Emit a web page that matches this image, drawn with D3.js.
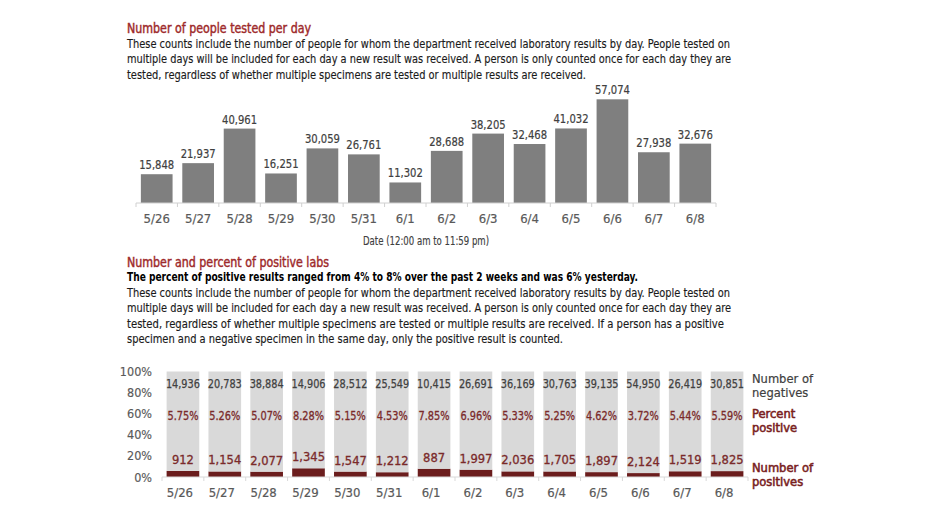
<!DOCTYPE html>
<html>
<head>
<meta charset="utf-8">
<script src="https://cdn.jsdelivr.net/npm/d3@7"></script>
<style>
  html, body { margin: 0; padding: 0; background: #fff; }
  svg { display: block; }
</style>
</head>
<body>
<div id="chart"></div>
<script>
// 数据
const dates = ["5/26", "5/27", "5/28", "5/29", "5/30", "5/31", "6/1", "6/2", "6/3", "6/4", "6/5", "6/6", "6/7", "6/8"];
const tested = [15848, 21937, 40961, 16251, 30059, 26761, 11302, 28688, 38205, 32468, 41032, 57074, 27938, 32676];
const negatives = [14936, 20783, 38884, 14906, 28512, 25549, 10415, 26691, 36169, 30763, 39135, 54950, 26419, 30851];
const positives = [912, 1154, 2077, 1345, 1547, 1212, 887, 1997, 2036, 1705, 1897, 2124, 1519, 1825];
const pctLabels = ["5.75%", "5.26%", "5.07%", "8.28%", "5.15%", "4.53%", "7.85%", "6.96%", "5.33%", "5.25%", "4.62%", "3.72%", "5.44%", "5.59%"];
const pctTicks = [0, 0.2, 0.4, 0.6, 0.8, 1];

const title1 = "Number of people tested per day";
const para1 = [
    "These counts include the number of people for whom the department received laboratory results by day. People tested on",
    "multiple days will be included for each day a new result was received. A person is only counted once for each day they are",
    "tested, regardless of whether multiple specimens are tested or multiple results are received."
];
const axisTitle1 = "Date (12:00 am to 11:59 pm)";
const title2 = "Number and percent of positive labs";
const lead2 = "The percent of positive results ranged from 4% to 8% over the past 2 weeks and was 6% yesterday.";
const para2 = [
    "These counts include the number of people for whom the department received laboratory results by day. People tested on",
    "multiple days will be included for each day a new result was received. A person is only counted once for each day they are",
    "tested, regardless of whether multiple specimens are tested or multiple results are received. If a person has a positive",
    "specimen and a negative specimen in the same day, only the positive result is counted."
];
const legend2 = [["Number of", "negatives"], ["Percent", "positive"], ["Number of", "positives"]];

const W = 932, H = 524;
const FONT = "'Liberation Sans Narrow', 'DejaVu Sans Condensed', 'Liberation Sans', sans-serif";
const RED = "#9e2a2b";
const MAROON = "#6b1d1d";

const svg = d3.select("#chart").append("svg")
    .attr("width", W)
    .attr("height", H)
    .style("font-family", FONT);

const fmt = d3.format(",");

// 文字块（stroke 用来模拟中等字重）
function textLine(x, y, str, opts) {
    const t = svg.append("text")
        .attr("x", x)
        .attr("y", y)
        .attr("font-size", opts.size)
        .attr("fill", opts.color)
        .attr("font-weight", opts.weight || "normal")
        .text(str);
    if (opts.stroke) {
        t.attr("stroke", opts.color).attr("stroke-width", opts.stroke);
    }
    if (opts.len) {
        t.attr("textLength", opts.len).attr("lengthAdjust", "spacingAndGlyphs");
    }
    return t;
}

// ---------- 图1：每日检测人数 ----------
textLine(127, 33, title1, {size: 14.5, color: RED, len: 184, stroke: 0.45});
const para1Len = [603, 604, 459];
para1.forEach((s, i) => textLine(127, 47.5 + i * 15.5, s, {size: 12.8, color: "#1a1a1a", len: para1Len[i], stroke: 0.15}));

const x1 = d3.scaleBand()
    .domain(dates)
    .range([136, 716])
    .paddingInner(0.235)
    .paddingOuter(0.1175);

const y1 = d3.scaleLinear()
    .domain([0, 60000])
    .range([203, 94]);

const g1 = svg.append("g");

g1.selectAll("rect")
    .data(tested)
    .join("rect")
    .attr("x", (d, i) => x1(dates[i]))
    .attr("y", d => y1(d))
    .attr("width", x1.bandwidth())
    .attr("height", d => y1(0) - y1(d))
    .attr("fill", "#7f7f7f");

g1.selectAll("text.val")
    .data(tested)
    .join("text")
    .attr("class", "val")
    .attr("x", (d, i) => x1(dates[i]) + x1.bandwidth() / 2)
    .attr("y", d => y1(d) - 5)
    .attr("text-anchor", "middle")
    .attr("font-size", 12.8)
    .attr("fill", "#404040")
    .attr("stroke", "#404040")
    .attr("stroke-width", 0.2)
    .attr("textLength", 35)
    .attr("lengthAdjust", "spacingAndGlyphs")
    .text(d => fmt(d));

// 坐标轴
const axis1 = g1.append("g").attr("transform", `translate(0,${y1(0)})`);
axis1.append("line")
    .attr("x1", 136).attr("x2", 716)
    .attr("stroke", "#d0d0d0");
d3.range(dates.length + 1).forEach(i => {
    const xx = 136 + i * x1.step();
    axis1.append("line")
        .attr("x1", xx).attr("x2", xx)
        .attr("y1", 0).attr("y2", 4)
        .attr("stroke", "#d0d0d0");
});
axis1.selectAll("text")
    .data(dates)
    .join("text")
    .attr("x", d => x1(d) + x1.bandwidth() / 2)
    .attr("y", 19.5)
    .attr("text-anchor", "middle")
    .attr("font-size", 13)
    .attr("fill", "#595959")
    .attr("stroke", "#595959")
    .attr("stroke-width", 0.2)
    .text(d => d);

svg.append("text")
    .attr("x", 426)
    .attr("y", 245)
    .attr("text-anchor", "middle")
    .attr("font-size", 11.5)
    .attr("fill", "#404040")
    .attr("stroke", "#404040")
    .attr("stroke-width", 0.15)
    .attr("textLength", 126)
    .attr("lengthAdjust", "spacingAndGlyphs")
    .text(axisTitle1);

// ---------- 图2：阳性数与阳性率 ----------
textLine(127, 267, title2, {size: 14.5, color: RED, len: 202, stroke: 0.45});
textLine(127, 280.5, lead2, {size: 12.8, color: "#000", weight: "bold", len: 511});
const para2Len = [603, 604, 597, 436];
para2.forEach((s, i) => textLine(127, 296.5 + i * 15.5, s, {size: 12.8, color: "#1a1a1a", len: para2Len[i], stroke: 0.15}));

const x2 = d3.scaleBand()
    .domain(dates)
    .range([162, 748])
    .paddingInner(0.22)
    .paddingOuter(0.11);

const y2 = d3.scaleLinear()
    .domain([0, 1])
    .range([477, 371.5]);

const stackData = dates.map((d, i) => ({date: d, pos: positives[i], neg: negatives[i]}));
const series = d3.stack()
    .keys(["pos", "neg"])
    .offset(d3.stackOffsetExpand)(stackData);

const g2 = svg.append("g");

// y 轴刻度文字
g2.selectAll("text.ytick")
    .data(pctTicks)
    .join("text")
    .attr("class", "ytick")
    .attr("x", 152)
    .attr("y", d => y2(d) + 4.5)
    .attr("text-anchor", "end")
    .attr("font-size", 12.5)
    .attr("fill", "#595959")
    .attr("stroke", "#595959")
    .attr("stroke-width", 0.15)
    .text(d => d3.format(".0%")(d));

g2.selectAll("g.layer")
    .data(series)
    .join("g")
    .attr("class", "layer")
    .attr("fill", s => s.key === "pos" ? MAROON : "#d9d9d9")
    .selectAll("rect")
    .data(s => s)
    .join("rect")
    .attr("x", d => x2(d.data.date))
    .attr("y", d => y2(d[1]))
    .attr("width", x2.bandwidth())
    .attr("height", d => y2(d[0]) - y2(d[1]));

// 柱内标签
const cx2 = d => x2(d) + x2.bandwidth() / 2;
g2.selectAll("text.neg")
    .data(negatives)
    .join("text")
    .attr("class", "neg")
    .attr("x", (d, i) => cx2(dates[i]))
    .attr("y", y2(0.885) + 4.5)
    .attr("text-anchor", "middle")
    .attr("font-size", 12.8)
    .attr("fill", "#404040")
    .attr("stroke", "#404040")
    .attr("stroke-width", 0.25)
    .attr("textLength", 34)
    .attr("lengthAdjust", "spacingAndGlyphs")
    .text(d => fmt(d));

g2.selectAll("text.pct")
    .data(pctLabels)
    .join("text")
    .attr("class", "pct")
    .attr("x", (d, i) => cx2(dates[i]))
    .attr("y", y2(0.585) + 4.5)
    .attr("text-anchor", "middle")
    .attr("font-size", 12.8)
    .attr("fill", "#7a2a2a")
    .attr("stroke", "#7a2a2a")
    .attr("stroke-width", 0.3)
    .attr("textLength", 31)
    .attr("lengthAdjust", "spacingAndGlyphs")
    .text(d => d);

g2.selectAll("text.pos")
    .data(series[0])
    .join("text")
    .attr("class", "pos")
    .attr("x", d => cx2(d.data.date))
    .attr("y", d => y2(d[1]) - 7)
    .attr("text-anchor", "middle")
    .attr("font-size", 12.8)
    .attr("fill", "#7a2a2a")
    .attr("stroke", "#7a2a2a")
    .attr("stroke-width", 0.3)
    .text(d => fmt(d.data.pos));

// x 轴
const axis2 = g2.append("g").attr("transform", `translate(0,${y2(0)})`);
axis2.append("line")
    .attr("x1", 162).attr("x2", 748)
    .attr("stroke", "#d9d9d9");
d3.range(dates.length + 1).forEach(i => {
    const xx = 162 + i * x2.step();
    axis2.append("line")
        .attr("x1", xx).attr("x2", xx)
        .attr("y1", 0).attr("y2", 4)
        .attr("stroke", "#d9d9d9");
});
axis2.selectAll("text")
    .data(dates)
    .join("text")
    .attr("x", d => cx2(d) - 3)
    .attr("y", 19.5)
    .attr("text-anchor", "middle")
    .attr("font-size", 13)
    .attr("fill", "#595959")
    .attr("stroke", "#595959")
    .attr("stroke-width", 0.2)
    .text(d => d);

// 右侧图例
const legendY = [378.5, 413.5, 467.5];
const legendColor = ["#404040", "#7a1f1f", "#7a1f1f"];
legend2.forEach((lines, k) => {
    lines.forEach((s, j) => {
        svg.append("text")
            .attr("x", 752)
            .attr("y", legendY[k] + 4.5 + j * 14)
            .attr("font-size", 12.8)
            .attr("fill", legendColor[k])
            .attr("stroke", legendColor[k])
            .attr("stroke-width", k === 0 ? 0.2 : 0.55)
            .text(s);
    });
});
</script>
</body>
</html>
